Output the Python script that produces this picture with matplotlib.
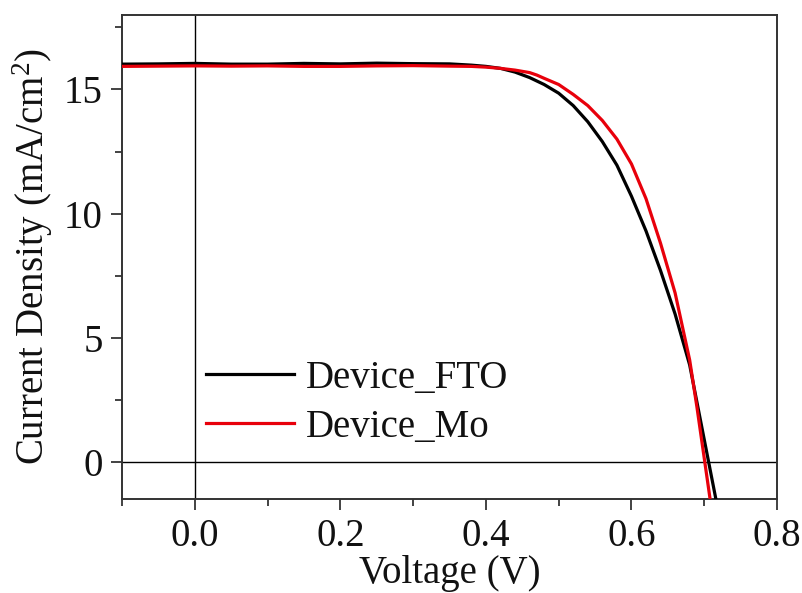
import matplotlib
matplotlib.use("Agg")
import matplotlib.pyplot as plt

plt.rcParams['font.family'] = ['Liberation Serif', 'DejaVu Serif']
plt.rcParams['mathtext.fontset'] = 'custom'
plt.rcParams['mathtext.rm'] = 'Liberation Serif'
plt.rcParams['mathtext.it'] = 'Liberation Serif:italic'

# Data
v_fto = [-0.10, -0.05, 0.00, 0.05, 0.10, 0.15, 0.20, 0.25, 0.30, 0.35, 0.38, 0.40,
         0.42, 0.44, 0.46, 0.48, 0.50, 0.52, 0.54, 0.56, 0.58, 0.60, 0.62, 0.64,
         0.66, 0.68, 0.69, 0.70, 0.71, 0.72]
j_fto = [16.02, 16.03, 16.05, 16.02, 16.02, 16.05, 16.03, 16.06, 16.04, 16.03, 15.98, 15.93,
         15.85, 15.70, 15.48, 15.20, 14.85, 14.35, 13.70, 12.90, 11.95, 10.70, 9.30, 7.70,
         5.95, 3.90, 2.40, 0.90, -0.60, -2.10]

v_mo = [-0.10, -0.05, 0.00, 0.05, 0.10, 0.15, 0.20, 0.25, 0.30, 0.35, 0.38, 0.40,
        0.42, 0.44, 0.46, 0.47, 0.48, 0.50, 0.52, 0.54, 0.56, 0.58, 0.60, 0.62,
        0.64, 0.66, 0.68, 0.69, 0.70, 0.71]
j_mo = [15.93, 15.94, 15.95, 15.94, 15.95, 15.93, 15.93, 15.95, 15.96, 15.94, 15.93, 15.90,
        15.85, 15.78, 15.68, 15.58, 15.45, 15.20, 14.80, 14.35, 13.75, 13.00, 12.00, 10.60,
        8.80, 6.80, 4.10, 2.20, 0.15, -1.90]

labels = ["Device_FTO", "Device_Mo"]
colors = ["#000000", "#e8000b"]

xticks = [0.0, 0.2, 0.4, 0.6, 0.8]
yticks = [0, 5, 10, 15]

FS = 28

fig = plt.figure(figsize=(8.03, 5.93), dpi=100)
ax = fig.add_axes([122/803, 1-499/593, (777-122)/803, (499-15)/593])

ax.axhline(0, color='black', lw=1.0, zorder=1)
ax.axvline(0, color='black', lw=1.0, zorder=1)

ax.plot(v_fto, j_fto, color=colors[0], lw=2.3, label=labels[0], zorder=3)
ax.plot(v_mo, j_mo, color=colors[1], lw=2.3, label=labels[1], zorder=4)

ax.set_xlim(-0.1, 0.8)
ax.set_ylim(-1.5, 18)
ax.set_xticks(xticks)
ax.set_xticklabels([f"{t:.1f}" for t in xticks])
ax.set_yticks(yticks)
ax.set_xticks([-0.1, 0.1, 0.3, 0.5, 0.7], minor=True)
ax.set_yticks([2.5, 7.5, 12.5, 17.5], minor=True)

ax.tick_params(axis='both', which='major', direction='out', length=8, width=1.2,
               labelsize=FS, colors='#222222', labelcolor='#111111', pad=6)
ax.tick_params(axis='both', which='minor', direction='out', length=5, width=1.2,
               colors='#222222')
ax.tick_params(top=False, right=False, which='both')
for s in ax.spines.values():
    s.set_linewidth(1.4)
    s.set_color('#333333')

ax.set_xlabel("Voltage (V)", fontsize=FS, color='#111111', labelpad=0)
ax.set_ylabel(r"Current Density (mA/cm$^{2}$)", fontsize=FS, color='#111111', labelpad=6)

leg = ax.legend(loc='upper left', bbox_to_anchor=(0.105, 0.32), frameon=False,
                fontsize=FS, handlelength=2.25, handletextpad=0.3, labelspacing=0.31,
                borderaxespad=0)
for t in leg.get_texts():
    t.set_color('#111111')

fig.savefig("out.png", dpi=100)
